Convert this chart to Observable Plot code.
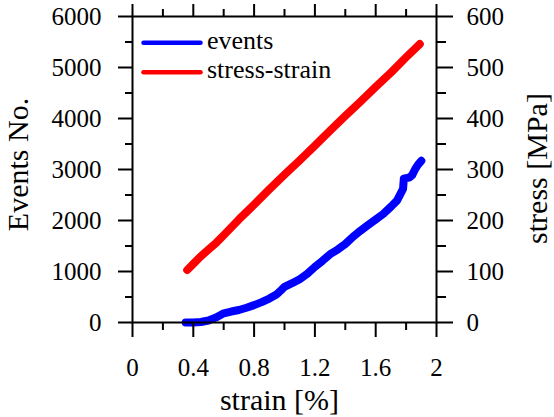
<!DOCTYPE html>
<html><head><meta charset="utf-8">
<script src="https://cdn.jsdelivr.net/npm/d3@7"></script>
<script src="https://cdn.jsdelivr.net/npm/@observablehq/plot@0.6"></script>
<style>
body{margin:0;background:#fff}
#wrap{position:relative;width:554px;height:417px;overflow:hidden}
#wrap svg text{font-family:'Liberation Serif','Times New Roman',serif}
#legend{position:absolute;left:0;top:0}
</style>
</head><body><div id="wrap"></div>
<script>
// ---- data ----
const eventsStrain = [0.35,0.40,0.45,0.50,0.55,0.60,0.65,0.70,0.75,0.80,0.85,0.90,0.95,0.98,1.00,1.05,1.10,1.15,1.20,1.25,1.30,1.35,1.40,1.45,1.50,1.55,1.60,1.65,1.70,1.74,1.78,1.785,1.80,1.82,1.84,1.86,1.88,1.90];
const eventsCount  = [0,0,10,40,100,180,215,245,290,340,400,470,555,640,700,770,850,955,1090,1210,1340,1430,1540,1680,1800,1910,2020,2130,2270,2390,2620,2820,2830,2840,2890,3010,3100,3170];
const stressStrain = [0.36,0.40,0.45,0.50,0.55,0.60,0.70,0.80,0.90,1.00,1.10,1.20,1.30,1.40,1.50,1.60,1.70,1.80,1.89];
const stressMPa    = [103,115,130,143,156,171,202,231,261,290,318,347,376,405,433,462,490,520,546];

const xMajor = [0,0.4,0.8,1.2,1.6,2];
const xMinor = [0.2,0.6,1.0,1.4,1.8];
const yMajor = [0,1000,2000,3000,4000,5000,6000];
const yMinor = [500,1500,2500,3500,4500,5500];
const stressMajor = [0,100,200,300,400,500,600];
const stressMinor = [50,150,250,350,450,550];

const legendLabels = ["events","stress-strain"];
const legendColors = ["#0000ff","#ff0000"];
const titles = {x:"strain [%]", yLeft:"Events No.", yRight:"stress [MPa]"};

const K = 10; // 1 MPa on right axis = 10 events on left axis
const eventsData = eventsStrain.map((s,i)=>({strain:s, value:eventsCount[i]}));
const stressData = stressStrain.map((s,i)=>({strain:s, value:stressMPa[i]*K}));
const blank = () => "";
const fmt = d3.format("~g");

const serif = "'Liberation Serif', 'Times New Roman', serif";
const ax = {strokeWidth:2, label:null, fontFamily:serif};
const tt = {text:d=>d, fontSize:30, fontFamily:serif, textAnchor:"middle", lineAnchor:"middle"};
const chart = Plot.plot({
  width:554, height:417,
  marginLeft:132, marginRight:118, marginTop:16, marginBottom:95,
  style:{fontFamily:serif, fontSize:"25px", color:"#000", background:"#fff", overflow:"visible"},
  x:{domain:[0,2], label:null},
  y:{domain:[0,6000], label:null},
  marks:[
    Plot.line(stressData,{x:"strain",y:"value",stroke:legendColors[1],strokeWidth:8,strokeLinecap:"round",strokeLinejoin:"round"}),
    Plot.line(eventsData,{x:"strain",y:"value",stroke:legendColors[0],strokeWidth:8,strokeLinecap:"round",strokeLinejoin:"round"}),
    Plot.frame({stroke:"#000",strokeWidth:2}),
    Plot.axisX(xMajor,{...ax,anchor:"bottom",tickSize:15,tickPadding:21,tickFormat:fmt}),
    Plot.axisX(xMinor,{...ax,anchor:"bottom",tickSize:8,tickFormat:blank}),
    Plot.axisX(xMajor,{...ax,anchor:"top",tickSize:13,tickFormat:blank}),
    Plot.axisX(xMinor,{...ax,anchor:"top",tickSize:8,tickFormat:blank}),
    Plot.axisY(yMajor,{...ax,anchor:"left",tickSize:14,tickPadding:17,tickFormat:d3.format("d")}),
    Plot.axisY(yMinor,{...ax,anchor:"left",tickSize:7,tickFormat:blank}),
    Plot.axisY(stressMajor.map(d=>d*K),{...ax,anchor:"right",tickSize:16,tickPadding:14,tickFormat:d=>d3.format("d")(d/K)}),
    Plot.axisY(stressMinor.map(d=>d*K),{...ax,anchor:"right",tickSize:9,tickFormat:blank}),
    Plot.text([titles.x],{...tt,frameAnchor:"bottom",dx:-5,dy:78}),
    Plot.text([titles.yLeft],{...tt,frameAnchor:"left",dx:-114,dy:-5,rotate:-90}),
    Plot.text([titles.yRight],{...tt,frameAnchor:"right",dx:101,dy:-1,rotate:-90})
  ]
});
const wrap = document.getElementById("wrap");
wrap.appendChild(chart);

// legend overlay (inside the plot, top-left)
const lg = d3.select(wrap).append("svg").attr("id","legend").attr("width",554).attr("height",417);
legendLabels.forEach((lab,i)=>{
  const yc = 42.7 + i*29.6;
  lg.append("line").attr("x1",143.5).attr("x2",200.5).attr("y1",yc).attr("y2",yc)
    .attr("stroke",legendColors[i]).attr("stroke-width",4.5).attr("stroke-linecap","round");
  lg.append("text").attr("x",207).attr("y",yc+6).attr("font-size",26).text(lab);
});
</script>
</body></html>
